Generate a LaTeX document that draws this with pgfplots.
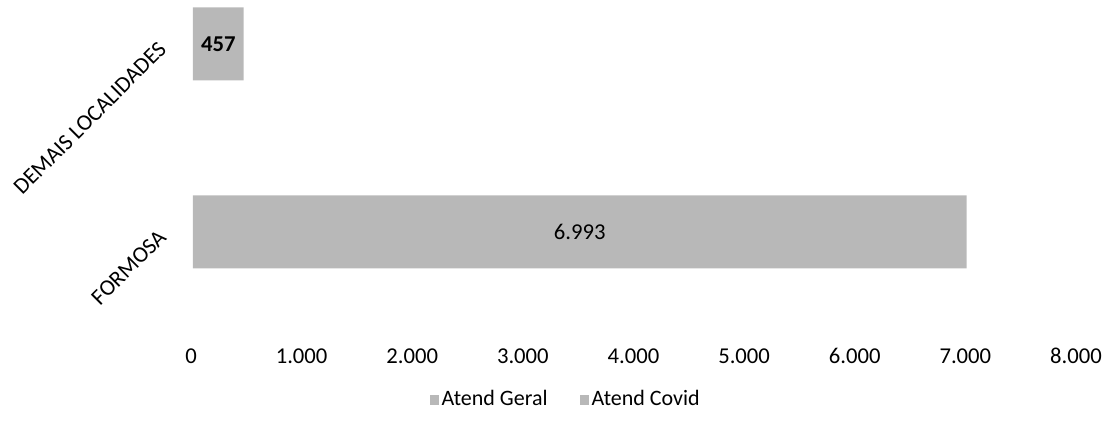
\documentclass[border=0pt]{standalone}
\usepackage{fontspec}
\setmainfont{Carlito}
\usepackage{pgfplots}
\pgfplotsset{compat=1.18}
\definecolor{bargray}{gray}{0.72}
\begin{document}
\fontsize{17pt}{20pt}\selectfont
\begin{tikzpicture}
\begin{axis}[
    name=ax,
    scale only axis,
    width=663.75pt, height=244.5pt,
    xmin=0, xmax=8000,
    ymin=-0.5, ymax=1.234,
    xtick={0,1000,...,8000},
    ytick={0,1},
    yticklabels={FORMOSA, DEMAIS LOCALIDADES},
    yticklabel style={xshift=-27pt, yshift=3pt, rotate=45, anchor=north east, inner sep=0pt},
    xticklabel style={anchor=center, yshift=-22.5pt, xshift=-1.5pt},
    /pgf/number format/.cd, 1000 sep={.}, assume math mode=true,
    /pgfplots/.cd,
    axis line style={draw=none},
    major tick length=0pt,
    clip=false,
    legend columns=2,
    legend style={draw=none, at={(0.4215,-0.227)}, anchor=center, font=\fontsize{16.5pt}{19pt}\selectfont,
        /tikz/every even column/.append style={column sep=22pt}},
    legend image code/.code={\fill[bargray] (-4pt,-3.5pt) rectangle (3pt,3.5pt);},
]
% Atend Geral
\addplot[xbar, bar width=54.75pt, fill=bargray, draw=none] coordinates {(6993,0) (457,1)};
\addlegendentry{Atend Geral}
\addlegendimage{fill=bargray, draw=none}
\addlegendentry{Atend Covid}
% data labels, centred in the bars
\addplot[draw=none, mark=none, forget plot,
    point meta=explicit symbolic, nodes near coords,
    every node near coord/.append style={anchor=center, inner sep=0pt}]
    coordinates {(3496.5,0)[6.993] (228.5,1)[\textbf{457}]};
\end{axis}
\pgfresetboundingbox
\path[use as bounding box] ([xshift=-144.75pt, yshift=-71.25pt]ax.south west) rectangle ([xshift=21pt]ax.north east);
\end{tikzpicture}
\end{document}
